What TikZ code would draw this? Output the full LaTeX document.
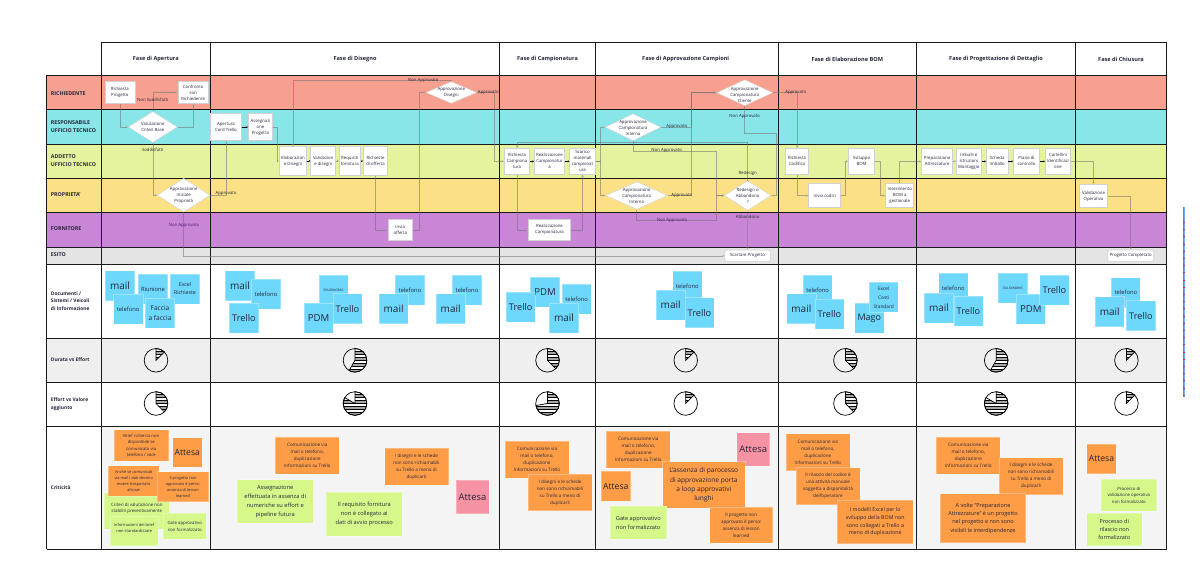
\documentclass[tikz,border=0pt]{standalone}
\usepackage{fontspec}
\setmainfont{Open Sans}
\usetikzlibrary{arrows.meta,shapes.geometric,calc}
\definecolor{cred}{HTML}{F8A08F}
\definecolor{ccyan}{HTML}{89E6E8}
\definecolor{cyel}{HTML}{E5F29E}
\definecolor{camb}{HTML}{FCE085}
\definecolor{cpur}{HTML}{C986D6}
\definecolor{cgry}{HTML}{E4E4E4}
\definecolor{cgr2}{HTML}{EFEFEF}
\definecolor{cgr3}{HTML}{F4F4F4}
\definecolor{cblu}{HTML}{6ED7FC}
\definecolor{cora}{HTML}{FF9C46}
\definecolor{cgre}{HTML}{D6F88A}
\definecolor{cpnk}{HTML}{F592A3}
\definecolor{ctxt}{HTML}{23263A}
\definecolor{clin}{HTML}{707070}
\definecolor{cvio}{HTML}{4A1A70}
\newcommand\dtx[2][-.3em]{\smash{\makebox[0pt]{\raisebox{#1}{\begin{tabular}{@{}c@{}}#2\end{tabular}}}}}
\newcommand\pieh[3]{%
  \begin{scope}[shift={(#1,#2)},y=1pt]
    \begin{scope}
      \clip (0,0) -- (90:11.8) arc[start angle=90,end angle=#3,radius=11.8] -- cycle;
      \fill[black!35] (-12,-12) rectangle (12,12);
      \foreach \yy in {-9,-3,3,9}{\fill[white] (-12,\yy) rectangle (12,\yy+2.6);}
      \foreach \yy in {-9,-6,...,12}{\draw[line width=.45] (-12,\yy) -- (12,\yy);}
    \end{scope}
    \draw[line width=.7,fill=none] (0,0) -- (90:11.8) arc[start angle=90,end angle=#3,radius=11.8] -- cycle;
    \draw[line width=.7] (0,0) circle[radius=11.8];
  \end{scope}}
\tikzset{
  fs/.style 2 args={font=\fontsize{#1}{#2}\selectfont},
  hdr/.style={text=ctxt,font=\fontsize{5.6}{7}\selectfont\bfseries},
  rowl/.style={anchor=west,align=left,inner sep=0,text=ctxt,font=\fontsize{5.3}{8}\selectfont\bfseries},
  rows/.style={rowl,font=\fontsize{4.9}{7.8}\selectfont\bfseries},
  proc/.style={draw=black!18,fill=white,line width=.6,inner sep=0,align=center,text=ctxt,font=\fontsize{4.3}{6}\selectfont},
  prnd/.style={proc,rounded corners=1.5pt},
  dia/.style={diamond,draw=black!18,fill=white,line width=.4,inner sep=0,text=ctxt,font=\fontsize{4.3}{6}\selectfont,aspect=1.6},
  lbl/.style={inner sep=0,text=ctxt,font=\fontsize{4.3}{5}\selectfont},
  lblv/.style={lbl,text=cvio},
  con/.style={draw=clin,draw opacity=.55,line width=.55,-{Stealth[length=2.2pt,width=2.4pt,open,fill=white]}},
  blk/.style={draw=black,line width=.8,-{Stealth[length=1.6pt,width=2pt,open]}},
  note/.style={draw=white,draw opacity=.3,line width=.6,inner sep=0,align=center,text=ctxt},
  nb/.style={note,fill=cblu,minimum width=29.3,minimum height=30},
  no/.style={note,fill=cora,minimum width=64,minimum height=37,fs={4.6}{7}},
  ng/.style={note,fill=cgre},
  na/.style={note,fill=cora,minimum width=29.6,minimum height=29.8,fs={8.6}{10}},
  np/.style={note,fill=cpnk,minimum width=33,minimum height=33.4,fs={9.4}{11}},
}
\begin{document}
\begin{tikzpicture}[x=1pt,y=-1pt]
\useasboundingbox (0,0) rectangle (1200,573);
\fill[white] (0,0) rectangle (1200,573);
% bands
\fill[white] (101.3,42.3) rectangle (1166.7,75.3);
\fill[cred] (46.5,75.3) rectangle (1166.7,109.3);
\fill[ccyan] (46.5,109.3) rectangle (1166.7,144.3);
\fill[cyel] (46.5,144.3) rectangle (1166.7,178.3);
\fill[camb] (46.5,178.3) rectangle (1166.7,212.3);
\fill[cpur] (46.5,212.3) rectangle (1166.7,247.3);
\fill[cgry] (46.5,247.3) rectangle (1166.7,264.3);
\fill[cgr2] (46.5,338.3) rectangle (1166.7,382.3);
\fill[cgr3] (101.3,426.3) rectangle (1166.7,549.3);
% grid
\foreach \gy in {75.3,109.3,144.3,178.3,212.3,247.3,264.3,338.3,382.3,426.3,549.3}{\draw[line width=.9,black!90] (46.5,\gy) -- (1166.7,\gy);}
\draw[line width=.9,black!90] (101.3,42.3) -- (1166.7,42.3);
\draw[line width=.9,black!90] (46.5,75.3) -- (46.5,549.3);
\foreach \gx in {101.3,210.3,499.5,595.3,778.3,916.3,1075.3,1166.7}{\draw[line width=.9,black!90] (\gx,42.3) -- (\gx,549.3);}
% side stripe
\fill[black!12!orange!60!gray] (1183,207) rectangle (1184.1,397);
\fill[cblu!70!blue!80!white] (1184.1,207) rectangle (1185.3,397);
\foreach \ty in {222,229.2,...,397}{\fill[red!60!gray] (1183,\ty) rectangle (1185.3,\ty+1);}
% headers
\node[hdr] (h1) at (155.8,59) {Fase di Apertura};
\node[hdr] (h2) at (355,59) {Fase di Disegno};
\node[hdr] (h3) at (547.5,59) {Fase di Campionatura};
\node[hdr] (h4) at (685.7,59) {Fase di Approvazione Campioni};
\node[hdr] (h5) at (847.3,59) {Fase di Elaborazione BOM};
\node[hdr] (h6) at (996,59) {Fase di Progettazione di Dettaglio};
\node[hdr] (h7) at (1121,59) {Fase di Chiusura};
% row labels
\node[rowl] (r1) at (50.7,93.7) {RICHIEDENTE};
\node[rowl] (r2) at (50.7,127) {RESPONSABILE\\UFFICIO TECNICO};
\node[rowl] (r3) at (50.7,161) {ADDETTO\\UFFICIO TECNICO};
\node[rowl] (r4) at (50.7,195) {PROPRIETA'};
\node[rowl] (r5) at (50.7,229) {FORNITORE};
\node[rowl] (r6) at (50.7,255) {ESITO};
\node[rows] (r7) at (50.7,301) {Documenti /\\Sistemi / Veicoli\\di Informazione};
\node[rows] (r8) at (50.7,360) {Durata vs Effort};
\node[rows] (r9) at (50.7,404) {Effort vs Valore\\aggiunto};
\node[rows] (r10) at (50.7,487.7) {Criticità};
% process nodes
\node[proc,minimum width=30,minimum height=22] (rp) at (119.8,92.5) {Richiesta\\Progetto};
\node[proc,minimum width=30,minimum height=22] (cr) at (193.2,92.5) {Confronto\\con\\Richiedente};
\node[dia,minimum width=49,minimum height=31] (vc) at (152.8,127) {\dtx{Valutazione\\Criteri Base}};
\node[dia,minimum width=52.7,minimum height=33.7] (ai) at (183.7,195.2) {\dtx{Approvazione\\Iniziale\\Proprietà}};
\node[proc,minimum width=30.6,minimum height=26.6] (ac) at (226,127) {Apertura\\Card Trello};
\node[proc,minimum width=24.4,minimum height=26.6] (as) at (260.5,127) {Assegnazi\\one\\Progetto};
\node[proc,minimum width=27.4,minimum height=28.6] (ed) at (293,161) {Elaborazion\\e Disegni};
\node[proc,minimum width=25,minimum height=28.6] (vd) at (323.2,161) {Validazion\\e disegni};
\node[proc,minimum width=21,minimum height=28.6] (rf) at (349.8,161) {Requisiti\\fornitura};
\node[proc,minimum width=24.4,minimum height=28.6] (ro) at (375.5,161) {Richieste\\di offerta};
\node[proc,minimum width=24.7,minimum height=21.7] (io) at (400.3,229.8) {Invio\\offerta};
\node[dia,minimum width=50.7,minimum height=21.7] (ad) at (451.3,92.5) {\dtx{Approvazione\\Disegni}};
\node[proc,minimum width=25.4,minimum height=26] (rc) at (517,161.3) {Richiesta\\Campiona\\tura};
\node[proc,minimum width=30.4,minimum height=26] (rz) at (549.5,161.3) {Realizzazione\\Campionatur\\a};
\node[proc,minimum width=25.6,minimum height=26] (sm) at (582.5,161.3) {Scarico\\materiali\\campionat\\ura};
\node[proc,minimum width=42.4,minimum height=21.7] (rf2) at (549.5,229.8) {Realizzazione\\Campionatura};
\node[dia,minimum width=55.4,minimum height=27] (au) at (633,127.2) {\dtx[-.55em]{Approvazione\\Campionatura\\Interna}};
\node[dia,minimum width=62,minimum height=27.6] (al) at (636.7,195.5) {\dtx[-.55em]{Approvazione\\Campionatura\\Interna}};
\node[dia,minimum width=56,minimum height=26] (acl) at (744.7,92.7) {\dtx[-.8em]{Approvazione\\Campionatura\\Cliente}};
\node[dia,minimum width=46.7,minimum height=29.6] (ra) at (747.7,195.5) {\dtx[-.55em]{Redesign o\\Abbandono\\?}};
\node[prnd,minimum width=45.6,minimum height=11.7] (sp) at (747.5,255.8) {Scartare Progetto};
\node[proc,minimum width=23.4,minimum height=26] (rcd) at (797,161.3) {Richiesta\\Codifica};
\node[proc,minimum width=32,minimum height=24] (ic) at (824.7,195.7) {Invio codici};
\node[proc,minimum width=26.4,minimum height=26] (sb) at (861.5,161.3) {Sviluppo\\BOM};
\node[proc,minimum width=28,minimum height=24] (ib) at (899.7,195.7) {Inserimento\\BOM a\\gestionale};
\node[proc,minimum width=31,minimum height=26] (pa) at (937.2,161.3) {Preparazione\\Attrezzature};
\node[proc,minimum width=25,minimum height=26] (im) at (968.8,161.3) {Imballi e\\Istruzioni\\Montaggio};
\node[proc,minimum width=21.7,minimum height=26] (si) at (997.2,161.3) {Scheda\\Imballo};
\node[proc,minimum width=26.4,minimum height=26] (pc) at (1026.5,161.3) {Piano di\\controllo};
\node[proc,minimum width=25.4,minimum height=26] (ci) at (1058,161.3) {Cartellini\\Identificazi\\one};
\node[proc,minimum width=28.4,minimum height=23.4] (vo) at (1093.5,196) {Validazione\\Operativa};
\node[prnd,minimum width=46,minimum height=11.7] (pf) at (1130.7,255.8) {Progetto Completato};
% connectors
\draw[con] (rp.south) |- (vc.west);
\draw[con] (vc.east) -| (cr.south);
\draw[con] (vc.north) |- (cr.west);
\draw[con] (vc.south) |- (ai.west);
\draw[con] (ai.east) -| (ac.south);
\draw[blk] (ac.east) -- (as.west);
\draw[con] (as.east) -- ++(4,0) |- (ed.west);
\draw[con] (ad.north) -- ++(0,-1.4) -| (ed.north);
\draw[blk] (ed.east) -- (vd.west);
\draw[con] (vd.east) -- (rf.west);
\draw[blk] (rf.east) -- (ro.west);
\draw[con] (ro.south) |- (io.west);
\draw[con] (io.east) -- ++(6,0) |- (ad.west);
\draw[con] (ad.east) -- ++(17.3,0) |- (rc.west);
\draw[con] (ai.south) |- (sp.west);
\draw[con] (rc.south) |- (rf2.west);
\draw[con] (rf2.east) -| (sm.south);
\draw[blk] (rc.east) -- (rz.west);
\draw[blk] (rz.east) -- (sm.west);
\draw[con] (sm.east) -- ++(4.7,0) |- (au.west);
\draw[con] (sm.east) -- ++(4.7,0) |- (al.west);
\draw[con] (au.east) -- ++(30.6,0) |- (acl.west);
\draw[con] (al.east) -- ++(23.6,0) |- (acl.west);
\draw[con] (au.south) -- ++(0,10) -| ($(ra.west)+(-7.6,0)$) -- (ra.west);
\draw[con] (al.south) -- ++(0,11) -| ($(ra.west)+(-7.6,0)$) -- (ra.west);
\draw[con] (acl.south) -- ++(0,27.6) -| ($(ra.east)+(4.7,0)$) -- (ra.east);
\draw[con] (ra.north) -- ++(0,-38) -| (rc.north);
\draw[con] (ra.south) -- (sp.north);
\draw[con] (acl.east) -| (rcd.north);
\draw[con] (rcd.south) |- (ic.west);
\draw[con] (ic.east) -- ++(4,0) |- (sb.west);
\draw[con] (sb.east) -- ++(5.3,0) |- (ib.west);
\draw[con] (ib.north) |- (pa.west);
\draw[con] (pa.east) -- (im.west);
\draw[blk] (im.east) -- (si.west);
\draw[blk] (si.east) -- (pc.west);
\draw[blk] (pc.east) -- (ci.west);
\draw[con] (ci.east) -| (vo.north);
\draw[con] (vo.east) -| (pf.north);
% connector labels
\node[lbl] (l1) at (152.7,100.3) {Non Soddisfatti};
\node[lbl] (l2) at (152.7,150.3) {Soddisfatti};
\node[lbl] (l3) at (226,193.7) {Approvato};
\node[lblv] (l4) at (184,225.3) {Non Approvato};
\node[lbl] (l5) at (423.3,80.3) {Non Approvato};
\node[lbl] (l6) at (488.3,92.3) {Approvato};
\node[lbl] (l7) at (676.7,126.3) {Approvato};
\node[lbl] (l8) at (681.7,195.3) {Approvato};
\node[lbl] (l9) at (666.7,150.3) {Non Approvato};
\node[lblv] (l10) at (672,220.3) {Non Approvato};
\node[lbl] (l11) at (744.7,116.3) {Non Approvato};
\node[lbl] (l12) at (747.7,173.3) {Redesign};
\node[lbl] (l13) at (747.7,217.3) {Abbandono};
\node[lbl] (l14) at (795.7,92.3) {Approvato};
% blue notes
\node[nb,fs={10}{12}] (b1) at (120,285.7) {mail};
\node[nb,fs={5.8}{7.5}] (b2) at (153,289) {Riunione};
\node[nb,fs={5.2}{8}] (b3) at (185,289) {Excel\\Richieste};
\node[nb,fs={5.8}{7.5}] (b4) at (128.2,309.3) {telefono};
\node[nb,fs={6.6}{10}] (b5) at (160,312.8) {Faccia\\a faccia};
\node[nb,fs={10}{12}] (b6) at (240,285.7) {mail};
\node[nb,fs={5.8}{7.5}] (b7) at (266,294) {telefono};
\node[nb,fs={9.2}{12}] (b8) at (244,318.2) {Trello};
\node[nb,fs={3.2}{5}] (b9) at (333.5,290) {SOLIDWORKS};
\node[nb,fs={9.6}{12}] (b10) at (318.5,318.2) {PDM};
\node[nb,fs={9.2}{12}] (b11) at (347.5,308.7) {Trello};
\node[nb,fs={5.8}{7.5}] (b12) at (410,290) {telefono};
\node[nb,fs={10}{12}] (b13) at (393.6,308.7) {mail};
\node[nb,fs={5.8}{7.5}] (b14) at (467,290) {telefono};
\node[nb,fs={10}{12}] (b15) at (450.7,308.7) {mail};
\node[nb,fs={9.6}{12}] (b17) at (545,292.2) {PDM};
\node[nb,fs={9.2}{12}] (b16) at (520.7,307) {Trello};
\node[nb,fs={5.8}{7.5}] (b18) at (576.7,299.3) {telefono};
\node[nb,fs={10}{12}] (b19) at (564,318) {mail};
\node[nb,fs={5.8}{7.5}] (b21) at (687.3,286) {telefono};
\node[nb,fs={10}{12}] (b20) at (670.7,305) {mail};
\node[nb,fs={9.2}{12}] (b22) at (699.5,312.7) {Trello};
\node[nb,fs={5.8}{7.5}] (b23) at (817.6,290) {telefono};
\node[nb,fs={10}{12}] (b24) at (801.4,308.7) {mail};
\node[nb,fs={9.2}{12}] (b25) at (829.5,314.2) {Trello};
\node[nb,fs={9}{12}] (b26) at (869.3,318.2) {Mago};
\node[nb,fs={4.8}{9}] (b27) at (883.7,297.2) {Excel\\Costi\\Standard};
\node[nb,fs={5.8}{7.5}] (b28) at (953.3,288) {telefono};
\node[nb,fs={10}{12}] (b29) at (939,308) {mail};
\node[nb,fs={9.2}{12}] (b30) at (968.5,311) {Trello};
\node[nb,fs={3.2}{5}] (b31) at (1013,288) {SOLIDWORKS};
\node[nb,fs={9.6}{12}] (b32) at (1030.8,309) {PDM};
\node[nb,fs={9.2}{12}] (b33) at (1054.4,290) {Trello};
\node[nb,fs={5.8}{7.5}] (b34) at (1125.8,292.5) {telefono};
\node[nb,fs={10}{12}] (b35) at (1109.8,311.5) {mail};
\node[nb,fs={9.2}{12}] (b36) at (1141,315.7) {Trello};
% pies
\pieh{156}{360.3}{45}
\pieh{355}{360.3}{-120}
\pieh{547.5}{360.3}{-45}
\pieh{685.7}{360.3}{45}
\pieh{845.4}{360.3}{-45}
\pieh{996.2}{360.3}{-120}
\pieh{1126.4}{360.3}{45}
\pieh{156}{403.5}{-45}
\pieh{355}{403.5}{-210}
\pieh{547.5}{403.5}{-170}
\pieh{685.7}{403.5}{45}
\pieh{845.4}{403.5}{-45}
\pieh{996.2}{403.5}{-210}
\pieh{1126.4}{403.5}{45}
% critical notes - apertura
\node[no,minimum width=54.7,minimum height=31.3,fs={4.2}{6.3}] (c1) at (141.3,445.3) {Brief richiesta non\\disponibile se\\comunicato via\\telefono / voce};
\node[na] (c2) at (187.3,452.5) {Attesa};
\node[ng,minimum width=65,minimum height=36.6,fs={4.4}{6.3}] (c3) at (136.8,511) {Criteri  di valutazione non\\stabiliti preventivamente\\\mbox{}};
\node[no,minimum width=51.3,minimum height=30.3,fs={3.9}{5.9}] (c4) at (133.7,480.8) {Anche se comunicati\\via mail i dati devono\\essere trasportato\\altrove};
\node[no,minimum width=51.3,minimum height=30,fs={3.9}{5.9}] (c5) at (183,486.7) {Il progetto non\\approvato è perso:\\assenza di lesson\\learned};
\node[ng,minimum width=48.3,minimum height=29,fs={4}{6}] (c6) at (134.2,531.2) {Informazioni dei brief\\non standardizzate\\\mbox{}};
\node[ng,minimum width=42.7,minimum height=25.7,fs={4.3}{7}] (c7) at (184.7,526.2) {Gate approvativo\\non formalizzato};
% disegno
\node[no] (c8) at (307.3,455.5) {Comunicazione via\\mail o telefono,\\duplicazione\\Informazioni su Trello};
\node[no] (c9) at (416.5,466.5) {I disegni e le schede\\non sono richiamabili\\su Trello a meno di\\duplicarli};
\node[np] (c10) at (472.5,497) {Attesa};
\node[ng,minimum width=76.3,minimum height=43.6,fs={5.7}{8.8}] (c11) at (275.2,501.5) {Assegnazione\\effettuata in assenza di\\numeriche su effort e\\pipeline futura};
\node[ng,minimum width=76,minimum height=44,fs={5.7}{8.8}] (c12) at (364.3,514) {Il requisito fornitura\\non è collegato  ai\\dati di avvio processo};
% campionatura
\node[no] (c13) at (537,459.5) {Comunicazione via\\mail o telefono,\\duplicazione\\Informazioni su Trello};
\node[no,minimum height=36.7] (c14) at (560,492.3) {I disegni e le schede\\non sono richiamabili\\su Trello a meno di\\duplicarli};
% approvazione
\node[no] (c15) at (638.3,449.8) {Comunicazione via\\mail o telefono,\\duplicazione\\Informazioni su Trello};
\node[np] (c16) at (753.2,449.2) {Attesa};
\node[na] (c17) at (615.8,486.2) {Attesa};
\node[no,minimum width=82.3,minimum height=46.6,fs={6.6}{9.3}] (c18) at (703.8,485) {L'assenza di parocesso\\di approvazione porta\\a loop approvativi\\lunghi};
\node[ng,minimum width=56.7,minimum height=33,fs={5.6}{9}] (c19) at (638.3,522.8) {Gate approvativo\\non formalizzato};
\node[no,minimum width=63,minimum height=36.3] (c20) at (741.2,525.2) {Il progetto non\\approvato è perso:\\assenza di lesson\\learned};
% bom
\node[no] (c21) at (817.8,452) {Comunicazione via\\mail o telefono,\\duplicazione\\Informazioni su Trello};
\node[no] (c22) at (828,486) {Il rilascio del codice è\\una attività manuale\\soggetta a disponibilità\\dell'operatore};
\node[no,minimum width=75.7,minimum height=43.7,fs={5.3}{7.8}] (c23) at (875.2,521.8) {I modelli Excel per lo\\sviluppo della BOM non\\sono collegati a Trello a\\meno di duplicazione};
% dettaglio
\node[no] (c24) at (968.3,455.3) {Comunicazione via\\mail o telefono,\\duplicazione\\Informazioni su Trello};
\node[no] (c25) at (1031,476) {I disegni e le schede\\non sono richiamabili\\su Trello a meno di\\duplicarli};
\node[no,minimum width=85.4,minimum height=49,fs={5.5}{8.3}] (c26) at (983,518.2) {A volte "Preparazione\\Attrezzature" è un progetto\\nel progetto e non sono\\visibili le interdipendenze};
% chiusura
\node[na] (c27) at (1101.5,458.7) {Attesa};
\node[ng,minimum width=55.7,minimum height=32,fs={4.3}{6.5}] (c28) at (1128.8,495) {Processo di\\validazione operativa\\non formalizzato};
\node[ng,minimum width=55.3,minimum height=32.4,fs={5.5}{8}] (c29) at (1114.3,529.5) {Processo di\\rilascio non\\formalizzato};
\end{tikzpicture}
\end{document}
